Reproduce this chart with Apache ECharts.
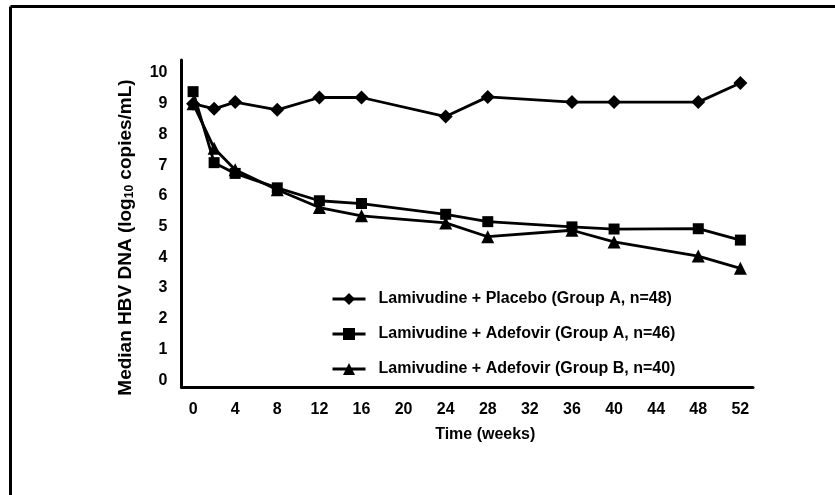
<!DOCTYPE html>
<html>
<head>
<meta charset="utf-8">
<script src="https://cdn.jsdelivr.net/npm/echarts@6/dist/echarts.min.js"></script>
<style>html,body{margin:0;padding:0;background:#fff;}#c{width:835px;height:495px;}</style>
</head>
<body>
<div id="c"></div>
<script>
var weeks = [0, 2, 4, 8, 12, 16, 24, 28, 36, 40, 48, 52];
var placeboA = [9.0, 8.83, 9.05, 8.8, 9.2, 9.2, 8.58, 9.22, 9.05, 9.05, 9.05, 9.67];
var adefovirA = [9.39, 7.08, 6.73, 6.26, 5.84, 5.75, 5.4, 5.16, 4.99, 4.92, 4.93, 4.56];
var adefovirB = [9.0, 7.55, 6.85, 6.2, 5.62, 5.35, 5.12, 4.67, 4.88, 4.5, 4.04, 3.64];
var seriesNames = ['Lamivudine + Placebo (Group A, n=48)', 'Lamivudine + Adefovir (Group A, n=46)', 'Lamivudine + Adefovir (Group B, n=40)'];
var xTicks = [0, 4, 8, 12, 16, 20, 24, 28, 32, 36, 40, 44, 48, 52];
var yTicks = [0, 1, 2, 3, 4, 5, 6, 7, 8, 9, 10];

function pairs(vals) { return weeks.map(function (w, i) { return [w, vals[i]]; }); }
var FONT = '"Liberation Sans", Arial, sans-serif';
var chart = echarts.init(document.getElementById('c'), null, {renderer: 'canvas'});
var lineStyle = {color: '#000', width: 2.8};
var itemStyle = {color: '#000'};
chart.setOption({
  backgroundColor: '#fff',
  animation: false,
  grid: {left: 181.5, right: 82, top: 60, bottom: 108, containLabel: false},
  legend: {
    orient: 'vertical', left: 326, top: 286,
    itemWidth: 33, itemHeight: 15, itemGap: 19,
    lineStyle: {width: 3},
    textStyle: {fontFamily: FONT, fontWeight: 'bold', fontSize: 16, lineHeight: 16, color: '#000', padding: [0, 0, 0, 8]},
    data: seriesNames
  },
  xAxis: {
    type: 'value', min: -1.1, max: 53.2,
    name: 'Time (weeks)', nameLocation: 'middle', nameGap: 40,
    nameTextStyle: {fontFamily: FONT, fontWeight: 'bold', fontSize: 16, color: '#000', padding: [0, 0, 0, 36]},
    axisLine: {show: true, onZero: false, lineStyle: {color: '#000', width: 3}},
    axisTick: {show: false},
    splitLine: {show: false},
    axisLabel: {customValues: xTicks, margin: 15, fontFamily: FONT, fontWeight: 'bold', fontSize: 16, color: '#000'}
  },
  yAxis: {
    type: 'value', min: -0.22, max: 10.42,
    name: 'Median HBV DNA (log{sub|10} copies/mL)', nameLocation: 'middle', nameGap: 46, nameRotate: 90,
    nameTextStyle: {fontFamily: FONT, fontWeight: 'bold', fontSize: 19, color: '#000', padding: [0, 28, 0, 0],
      rich: {sub: {fontFamily: FONT, fontWeight: 'bold', fontSize: 12, color: '#000', verticalAlign: 'bottom', padding: [8, 0, 0, 0]}}},
    axisLine: {show: true, onZero: false, lineStyle: {color: '#000', width: 3}},
    axisTick: {show: false},
    splitLine: {show: false},
    axisLabel: {customValues: yTicks, margin: 14, fontFamily: FONT, fontWeight: 'bold', fontSize: 16, color: '#000'}
  },
  graphic: [
    {type: 'line', shape: {x1: 10.5, y1: 6.5, x2: 835, y2: 6.5}, style: {stroke: '#000', lineWidth: 3}},
    {type: 'line', shape: {x1: 10.5, y1: 6.5, x2: 10.5, y2: 495}, style: {stroke: '#000', lineWidth: 3}}
  ],
  series: [
    {name: seriesNames[0], type: 'line', data: pairs(placeboA), symbol: 'diamond', symbolSize: 14, lineStyle: lineStyle, itemStyle: itemStyle},
    {name: seriesNames[1], type: 'line', data: pairs(adefovirA), symbol: 'rect', symbolSize: 11, lineStyle: lineStyle, itemStyle: itemStyle},
    {name: seriesNames[2], type: 'line', data: pairs(adefovirB), symbol: 'triangle', symbolSize: 13, lineStyle: lineStyle, itemStyle: itemStyle}
  ]
});
</script>
</body>
</html>
